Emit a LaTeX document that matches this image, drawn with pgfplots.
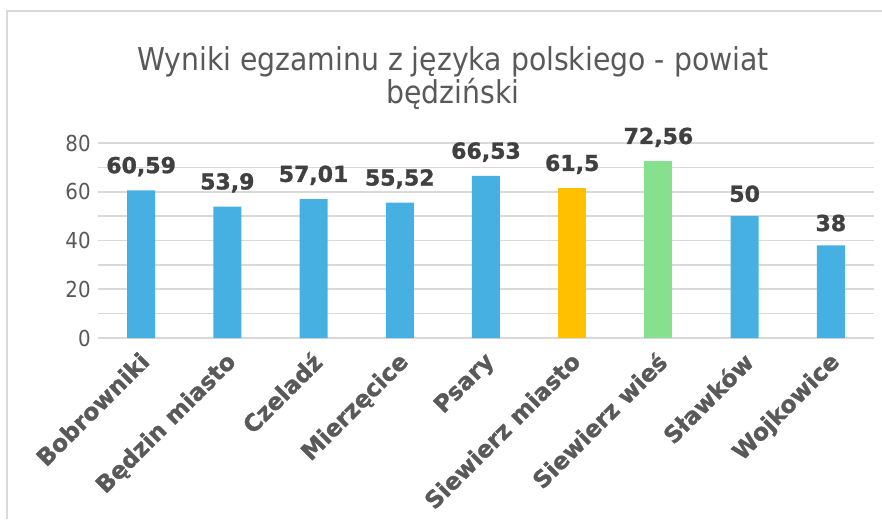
\documentclass[border=0pt]{standalone}
\usepackage{pgfplots}
\pgfplotsset{compat=1.18}
\usepackage{pgfplotstable}
\usepackage{fontspec}
\setmainfont{DejaVu Sans}
\newfontfamily\titlefont{DejaVu Sans Condensed}
\newfontfamily\tickfont{DejaVu Sans Condensed}
\newfontfamily\boldfont{DejaVu Sans Bold}[FakeBold=1.2]
\definecolor{barblue}{HTML}{45B0E1}
\definecolor{barorange}{HTML}{FFC000}
\definecolor{bargreen}{HTML}{86E08E}
\definecolor{txtgray}{HTML}{595959}
\definecolor{valgray}{HTML}{404040}
\definecolor{gridgray}{HTML}{D9D9D9}
\pgfplotstableread{
x y label
0 60.59 {60,59}
1 53.9 {53,9}
2 57.01 {57,01}
3 55.52 {55,52}
4 66.53 {66,53}
7 50 {50}
8 38 {38}
}\blue
\pgfplotstableread{
x y label
5 61.5 {61,5}
}\orange
\pgfplotstableread{
x y label
6 72.56 {72,56}
}\green
\begin{document}
\begin{tikzpicture}
\path[use as bounding box] (0,0) rectangle (661.5pt,389.25pt);
\draw[gridgray, line width=1.5pt] (5.25pt,0pt) -- (5.25pt,381pt) -- (661.5pt,381pt);
\node[anchor=center, align=center, text=txtgray, font=\titlefont\fontsize{23.6}{24.75}\selectfont, inner sep=0] at (339.75pt,331pt) {Wyniki egzaminu z języka polskiego - powiat\\będziński};
\begin{axis}[
  at={(73.5pt,135.75pt)}, anchor=south west,
  scale only axis, width=582pt, height=146.25pt,
  xmin=-0.5, xmax=8.5, ymin=0, ymax=80,
  axis line style={draw=none},
  tick style={draw=none},
  ytick={0,20,40,60,80},
  minor ytick={10,30,50,70},
  ymajorgrids, yminorgrids,
  major grid style={gridgray, line width=1.2pt},
  minor grid style={gridgray, line width=1.2pt},
  yticklabel style={font=\tickfont\fontsize{16.5}{18}\selectfont, text=txtgray, xshift=-2pt},
  xtick={0,...,8},
  xticklabels={Bobrowniki, Będzin miasto, Czeladź, Mierzęcice, Psary, Siewierz miasto, Siewierz wieś, Sławków, Wojkowice},
  xticklabel style={font=\boldfont\fontsize{17.5}{18}\selectfont, text=txtgray, rotate=45, anchor=north east, inner sep=2pt, xshift=-3pt},
  /pgf/number format/assume math mode=true,
  ybar, bar width=21pt, bar shift=0pt,
  point meta=explicit symbolic,
  nodes near coords,
  nodes near coords style={font=\boldfont\fontsize{16.5}{18}\selectfont, text=valgray, anchor=south, yshift=7pt},
  clip=false,
]
\addplot[fill=barblue, draw=none] table[x=x, y=y, meta=label] {\blue};
\addplot[fill=barorange, draw=none] table[x=x, y=y, meta=label] {\orange};
\addplot[fill=bargreen, draw=none] table[x=x, y=y, meta=label] {\green};
\end{axis}
\end{tikzpicture}
\end{document}
